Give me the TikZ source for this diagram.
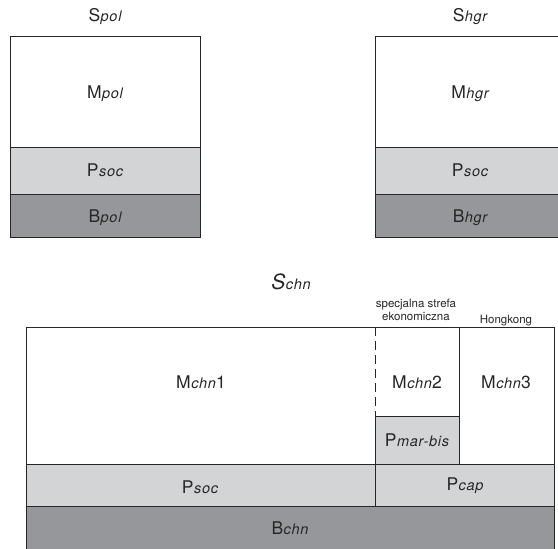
\documentclass[tikz,border=0pt]{standalone}
\usepackage{fontspec}
\setmainfont{TeX Gyre Heros}
\definecolor{txt}{HTML}{262626}
\definecolor{lightg}{HTML}{D3D4D6}
\definecolor{darkg}{HTML}{96979B}
\newcommand{\subt}[1]{\hspace{0.5pt}{\fontsize{14.5}{14.5}\selectfont\itshape\addfontfeatures{LetterSpace=5}#1}}
\begin{document}
\begin{tikzpicture}[x=1pt,y=-1pt,
  box/.style={draw=txt,line width=1pt},
  lbl/.style={text=txt,font=\fontsize{17.5}{18}\selectfont,inner sep=0pt,anchor=base},
  small/.style={text=txt,font=\fontsize{11.5}{13}\selectfont,inner sep=0pt,anchor=base}]
\useasboundingbox (0,0) rectangle (558,549);
\begin{scope}
\clip (0,0) rectangle (558,549);
% Poland
\draw[box,fill=white] (10,36) rectangle (200,147);
\draw[box,fill=lightg] (10,147) rectangle (200,194);
\draw[box,fill=darkg] (10,194) rectangle (200,237);
% Hong Kong top
\draw[box,fill=white] (375,36) rectangle (565,147);
\draw[box,fill=lightg] (375,147) rectangle (565,194);
\draw[box,fill=darkg] (375,194) rectangle (565,237);
% China
\draw[box,fill=darkg] (26,506) rectangle (554,560);
\draw[box,fill=lightg] (26,464) rectangle (375,506);
\draw[box,fill=lightg] (375,464) rectangle (554,506);
\draw[box] (26,327) -- (375,327) (26,327) -- (26,464) -- (375,464);
\draw[box,fill=white] (375,327) rectangle (459,416);
\draw[box,fill=lightg] (375,416) rectangle (459,464);
\draw[box,fill=white] (459,327) rectangle (554,464);
\draw[white,line width=2pt] (375,329) -- (375,414);
\draw[txt,line width=1pt,dash pattern=on 9pt off 5pt] (375,327) -- (375,416);
\end{scope}
% labels
\node[lbl] (spol) at (105,21) {S\subt{pol}};
\node[lbl] (mpol) at (105,98) {M\subt{pol}};
\node[lbl] (psoc1) at (105,176) {P\subt{soc}};
\node[lbl] (bpol) at (105,222) {B\subt{pol}};
\node[lbl] (shgr) at (470,21) {S\subt{hgr}};
\node[lbl] (mhgr) at (470,98) {M\subt{hgr}};
\node[lbl] (psoc2) at (470,176) {P\subt{soc}};
\node[lbl] (bhgr) at (470,222) {B\subt{hgr}};
\node[lbl] (schn) at (291,289) {{\fontsize{21}{21}\selectfont\itshape S}\subt{chn}};
\node[small] (sse1) at (416,307) {specjalna strefa};
\node[small] (sse2) at (416,320.5) {ekonomiczna};
\node[small] (hk) at (506,323) {Hongkong};
\node[lbl] (mchn1) at (201,388) {M\subt{chn}1};
\node[lbl] (mchn2) at (417,388) {M\subt{chn}2};
\node[lbl] (mchn3) at (506,388) {M\subt{chn}3};
\node[lbl] (pmar) at (417,446) {P\subt{mar-bis}};
\node[lbl] (psoc3) at (200,493) {P\subt{soc}};
\node[lbl] (pcap) at (465,490) {P\subt{cap}};
\node[lbl] (bchn) at (290,534) {B\subt{chn}};
\end{tikzpicture}
\end{document}
